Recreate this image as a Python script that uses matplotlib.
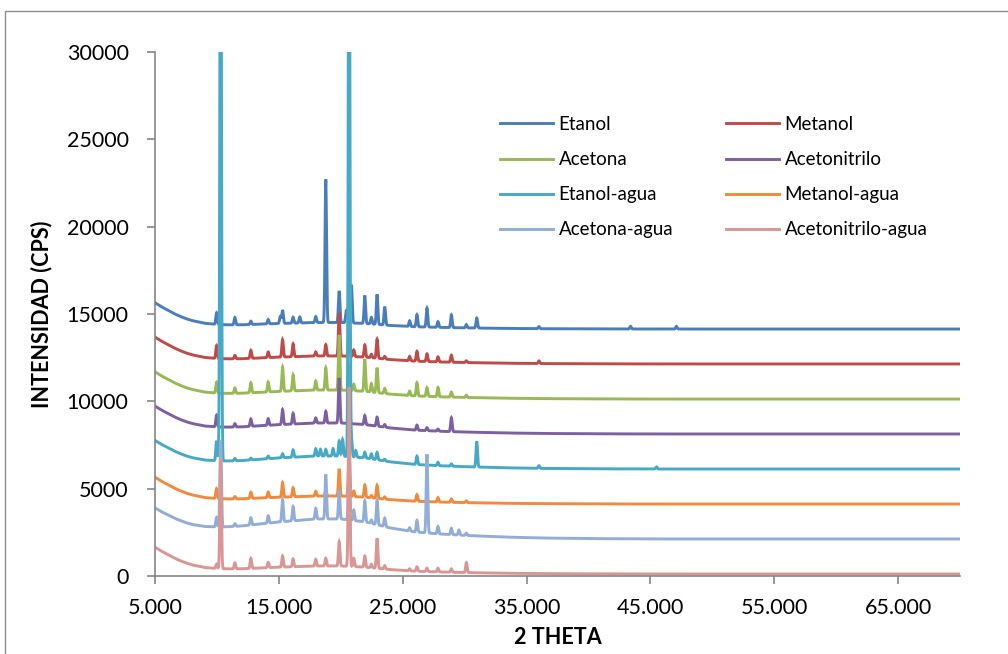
import matplotlib
matplotlib.use("Agg")
import matplotlib.pyplot as plt
import numpy as np
from matplotlib.patches import Rectangle

plt.rcParams['font.family'] = ['Lato', 'DejaVu Sans']

# series names / colours (Excel 2007 palette)
names = ["Etanol", "Metanol", "Acetona", "Acetonitrilo",
         "Etanol-agua", "Metanol-agua", "Acetona-agua", "Acetonitrilo-agua"]
colors = ["#4A7EBB", "#BE4B48", "#98B954", "#7D60A0",
          "#46AAC5", "#F08A3C", "#92AED6", "#D99694"]

# flat baseline of each pattern at high angle (CPS)
flat = [14140, 12140, 10130, 8130, 6125, 4120, 2120, 115]
# amorphous hump height under the 10-25 deg region (CPS)
hump_amp = [372, 458, 515, 630, 744, 458, 1145, 458]

# background shape
bg_x = [5, 5.5, 6, 6.5, 7, 7.5, 8, 9, 10, 11, 12, 15, 18, 20, 22, 24, 26, 28, 30, 33, 36, 40, 45, 70]
decay = [1374, 1145, 945, 744, 573, 429, 315, 143, 57, 17, 0, 0, 0, 0, 0, 0, 0, 0, 0, 0, 0, 0, 0, 0]
hump = [0.35, 0.37, 0.39, 0.41, 0.43, 0.44, 0.45, 0.5, 0.55, 0.6, 0.65, 0.85, 1, 1, 0.85, 0.55,
        0.35, 0.25, 0.18, 0.1, 0.05, 0.02, 0, 0]

# peak positions (2 theta)
peak_pos = [9.97, 10.30, 11.45, 12.74, 14.14, 15.12, 15.30, 16.15, 16.69, 17.98,
            18.36, 18.79, 19.38, 19.87, 20.15, 20.45, 20.67, 20.86, 21.05, 21.21,
            21.94, 22.47, 22.93, 23.55, 25.56, 26.15, 26.96, 27.85, 28.93, 29.54,
            30.14, 30.98, 36.0, 43.4, 45.5, 47.1]

# peak heights above background, one list per series (same order as peak_pos)
h_etanol = [670, 0, 420, 190, 250, 400, 760, 340, 340, 340,
            0, 8190, 0, 1810, 0, 700, 1500, 2180, 0, 0,
            1600, 380, 1720, 1050, 325, 700, 1090, 325, 730, 0,
            190, 570, 120, 150, 0, 150]
h_metanol = [745, 0, 190, 460, 325, 0, 990, 745, 0, 230,
             0, 650, 0, 2470, 0, 0, 1500, 0, 380, 0,
             700, 190, 1090, 150, 250, 570, 440, 290, 400, 0,
             100, 0, 150, 0, 0, 0]
h_acetona = [630, 0, 300, 570, 570, 0, 1390, 915, 0, 515,
             0, 1280, 0, 3150, 0, 0, 1500, 0, 380, 0,
             1850, 480, 1430, 290, 250, 765, 500, 535, 290, 0,
             130, 0, 0, 0, 0, 0]
h_acetonitrilo = [670, 0, 190, 420, 380, 0, 860, 610, 0, 290,
                  0, 670, 0, 2575, 0, 0, 1500, 0, 0, 0,
                  515, 0, 515, 150, 0, 290, 170, 115, 800, 0,
                  0, 0, 0, 0, 0, 0]
h_etanol_agua = [1145, 40000, 130, 100, 150, 0, 230, 420, 0, 420,
                 380, 380, 420, 860, 955, 0, 40000, 1050, 0, 380,
                 325, 290, 420, 100, 0, 475, 0, 190, 130, 0,
                 0, 1470, 150, 0, 120, 0]
h_metanol_agua = [570, 0, 130, 360, 325, 0, 840, 515, 0, 270,
                  0, 300, 0, 1550, 0, 0, 2500, 0, 325, 0,
                  700, 130, 745, 130, 0, 380, 150, 250, 190, 0,
                  100, 0, 0, 0, 0, 0]
h_acetona_agua = [535, 4980, 150, 420, 420, 0, 1260, 820, 0, 610,
                  0, 2550, 0, 1660, 0, 0, 3000, 0, 600, 0,
                  1200, 190, 1390, 480, 190, 670, 4500, 420, 360, 290,
                  130, 0, 0, 0, 0, 0]
h_acetonitrilo_agua = [250, 6330, 340, 570, 300, 0, 630, 440, 0, 380,
                       0, 440, 0, 1390, 0, 0, 10250, 0, 480, 0,
                       630, 190, 1720, 190, 115, 250, 190, 210, 190, 0,
                       570, 0, 0, 0, 0, 0]
heights = [h_etanol, h_metanol, h_acetona, h_acetonitrilo,
           h_etanol_agua, h_metanol_agua, h_acetona_agua, h_acetonitrilo_agua]

x_ticks = [5, 15, 25, 35, 45, 55, 65]
y_ticks = [0, 5000, 10000, 15000, 20000, 25000, 30000]

fig = plt.figure(figsize=(10.08, 6.54), dpi=100)
ax = fig.add_axes([155 / 1008, 1 - 576 / 654, 805 / 1008, 524 / 654])

tt = np.arange(5, 70.0001, 0.01)
pos = np.array(peak_pos)
lines = []
for i in range(8):
    base = flat[i] + np.interp(tt, bg_x, decay) + hump_amp[i] * np.interp(tt, bg_x, hump)
    h = np.array(heights[i], dtype=float)
    prof = (h[None, :] * np.exp(-0.5 * ((tt[:, None] - pos[None, :]) / 0.06) ** 2)).sum(axis=1)
    ln, = ax.plot(tt, base + prof, color=colors[i], lw=2.1, label=names[i], solid_joinstyle='miter')
    lines.append(ln)

ax.set_xlim(5, 70)
ax.set_ylim(0, 30000)
ax.set_xticks(x_ticks)
ax.set_xticklabels([f"{v:.3f}" for v in x_ticks])
ax.set_yticks(y_ticks)
ax.set_yticklabels([str(v) for v in y_ticks])
ax.tick_params(axis='both', direction='out', length=6, width=1.2, color='#868686',
               labelsize=15.5, labelcolor='black')
ax.tick_params(axis='y', pad=13)
ax.tick_params(axis='x', pad=10)
for s in ['top', 'right']:
    ax.spines[s].set_visible(False)
for s in ['left', 'bottom']:
    ax.spines[s].set_color('#868686')
    ax.spines[s].set_linewidth(1.2)

ax.set_xlabel("2 THETA", fontsize=15.5, fontweight='bold')
ax.set_ylabel("INTENSIDAD (CPS)", fontsize=15.5, fontweight='bold')
ax.xaxis.set_label_coords(0.5, -0.097)
ax.yaxis.set_label_coords(-0.128, 0.5)

# Excel fills the legend row by row: reorder so that columns come out right
order = [0, 2, 4, 6, 1, 3, 5, 7]
ax.legend([lines[k] for k in order], [names[k] for k in order],
          loc='upper left', bbox_to_anchor=(0.4286, 0.878), ncol=2, frameon=False,
          fontsize=13.5, handlelength=2.83, handletextpad=0.3, columnspacing=2.8,
          labelspacing=0.97, borderpad=0, borderaxespad=0)

fig.patches.append(Rectangle((5 / 1008, -0.05), 1.1, 0.983 + 0.05, transform=fig.transFigure,
                             fill=False, edgecolor='#8c8c8c', lw=1.0))

fig.savefig("out.png", dpi=100)
